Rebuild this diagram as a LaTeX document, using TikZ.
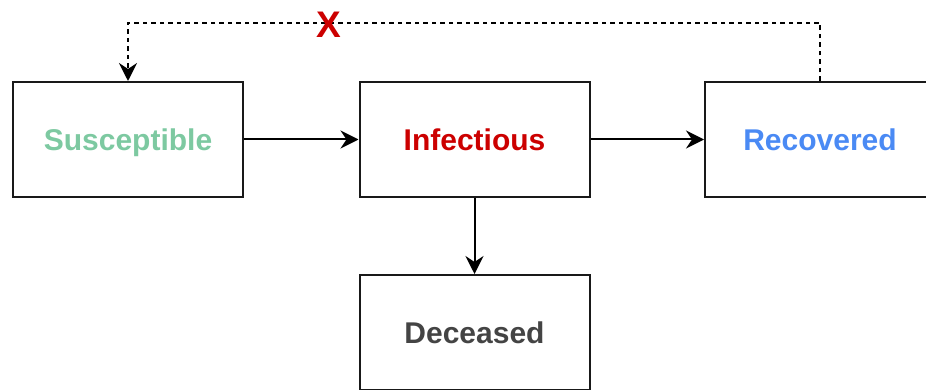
\documentclass[tikz,border=0pt]{standalone}
\usepackage{fontspec}
\setmainfont{Liberation Sans}
\usetikzlibrary{arrows.meta}

\definecolor{susgreen}{HTML}{7DC9A1}
\definecolor{infred}{HTML}{CC0000}
\definecolor{recblue}{HTML}{4A8AF4}
\definecolor{decgrey}{HTML}{444444}

\tikzset{
  compartment/.style={draw=black!90, line width=2pt, rectangle,
    minimum width=230pt, minimum height=115pt, inner sep=0pt,
    text height=21.5pt, text depth=0pt,
    font=\fontsize{30}{36}\selectfont\bfseries},
  transition/.style={draw=black, line width=2pt,
    -{Stealth[length=18pt,width=18pt,inset=6pt]}},
  blockedlink/.style={transition, dash pattern=on 4.5pt off 4pt},
}

\begin{document}
\begin{tikzpicture}[x=1pt, y=-1pt]
  \useasboundingbox (0,0) rectangle (926,390);
  \clip (0,0) rectangle (926,390);

  % compartments of the model
  \node[compartment, text=susgreen] (sus) at (128,139.5) {Susceptible};
  \node[compartment, text=infred]   (inf) at (474.5,139.5) {Infectious};
  \node[compartment, text=recblue]  (rec) at (820,139.5) {Recovered};
  \node[compartment, text=decgrey]  (dec) at (474.5,332.5) {Deceased};

  % transitions
  \draw[transition] (sus.east) -- (inf.west);
  \draw[transition] (inf.east) -- (rec.west);
  \draw[transition] (inf.south) -- (dec.north);

  % no return from recovered to susceptible
  \draw[blockedlink] (rec.north) -- ++(0,-58) -| (sus.north);
  \node[text=infred, font=\fontsize{37}{40}\selectfont\bfseries, inner sep=0pt]
    (xmark) at (329,25) {X};
\end{tikzpicture}
\end{document}
